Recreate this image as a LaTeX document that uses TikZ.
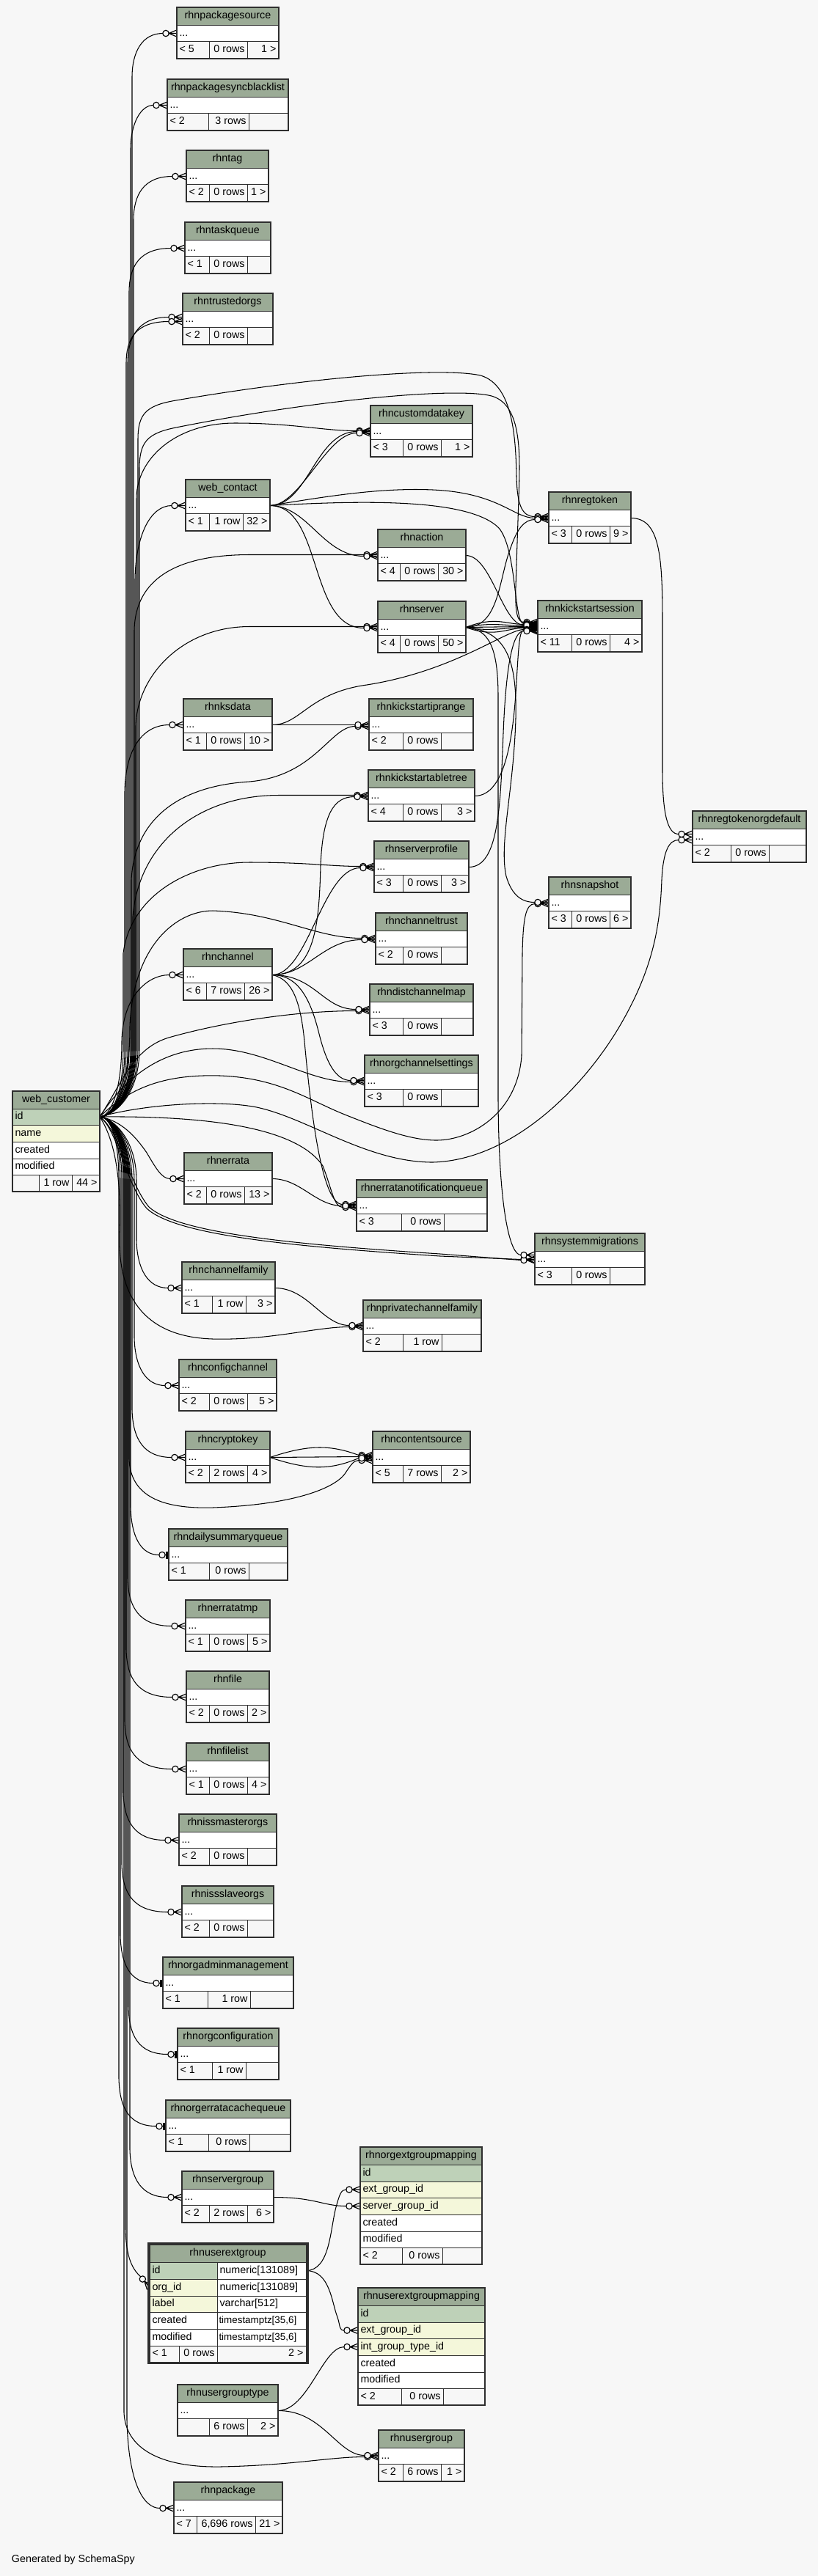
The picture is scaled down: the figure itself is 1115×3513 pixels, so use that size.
\documentclass[tikz,border=0pt]{standalone}
\usepackage{fontspec}
\setmainfont{Liberation Sans}
\definecolor{bgc}{HTML}{F7F7F7}
\definecolor{hdr}{HTML}{9BAB96}
\definecolor{pk}{HTML}{BED1B8}
\definecolor{idx}{HTML}{F4F7DA}
\definecolor{ftr}{HTML}{F7F7F7}
\definecolor{bdr}{HTML}{2E2E2E}
\pgfdeclarelayer{bglayer}
\pgfdeclarelayer{edgelayer}
\pgfsetlayers{bglayer,edgelayer,main}
\newcommand\fsz{\fontsize{14.3}{17}\selectfont}
\newcommand\fsm{\fontsize{13.4}{16}\selectfont}
\tikzset{
 cellbox/.style={draw=bdr, line width=0.9pt, inner sep=0pt, outer sep=0pt, rectangle},
 txt/.style={font=\fsz, inner sep=0pt, outer sep=0pt, text height=10.3pt, text depth=3pt, text=black},
 outer/.style={draw=bdr, line width=1.6pt},
 conn/.style={draw=black, line width=1.05pt},
 mk/.style={draw=black, line width=1.15pt},
 crowm/.pic={\draw[mk,fill=bgc] (-15,0) circle (4.2pt); \draw[mk] (-11,0) -- (0,-4.6) (-11,0) -- (0,0) (-11,0) -- (0,4.6);},
 onem/.pic={\draw[mk,fill=bgc] (-9,0) circle (4.2pt); \draw[mk] (-4.8,0) -- (0,0); \draw[line width=2.2pt] (-2.6,-5) -- (-2.6,5);},
}
\newcommand\tcell[6]{\pgfmathsetmacro\cWd{(#4)-(#2)}\pgfmathsetmacro\cHt{(#5)-(#3)}%
 \node[cellbox,fill=#6,minimum width=\cWd pt,minimum height=\cHt pt,anchor=north west] (#1) at ({#2},{#3}) {};}
\newcommand\cellL[2]{\node[txt,anchor=west] (#1-t) at ([xshift=3.5pt]#1.west) {#2};}
\newcommand\cellR[2]{\node[txt,anchor=east] (#1-t) at ([xshift=-3.5pt]#1.east) {#2};}
\newcommand\cellC[2]{\node[txt] (#1-t) at (#1.center) {#2};}
\newcommand\stbl[9]{\def\sN{#1}\def\sA{#2}\def\sB{#3}\def\sY{#4}\def\sT{#5}\def\sCa{#6}\def\sCb{#7}\def\sL{#8}\def\sM{#9}\stblfin}
\newcommand\stblfin[1]{%
 \tcell{\sN-h}{\sA}{\sY}{\sB}{\sY+24.5}{hdr}\cellC{\sN-h}{\sT}
 \tcell{\sN}{\sA}{\sY+24.5}{\sB}{\sY+46.5}{white}\cellL{\sN}{...}
 \tcell{\sN-f1}{\sA}{\sY+46.5}{\sCa}{\sY+70}{ftr}\cellL{\sN-f1}{\sL}
 \tcell{\sN-f2}{\sCa}{\sY+46.5}{\sCb}{\sY+70}{ftr}\cellR{\sN-f2}{\sM}
 \tcell{\sN-f3}{\sCb}{\sY+46.5}{\sB}{\sY+70}{ftr}\cellR{\sN-f3}{#1}
 \draw[outer] ({\sA},{\sY}) rectangle ({\sB},{\sY+70});}
\newcommand\edgeto[3]{\draw[conn] #1 ([xshift=-19pt,yshift=#3pt]#2.west); \pic at ([yshift=#3pt]#2.west) {crowm};}
\newcommand\edgeone[3]{\draw[conn] #1 ([xshift=-13.2pt,yshift=#3pt]#2.west); \pic at ([yshift=#3pt]#2.west) {onem};}
\newcommand\upE[4]{\edgeto{(wcid.east) .. controls (150,1523) and (#2,1500) .. (#2,1430) -- ({#2},{#3+60}) .. controls ({#2},{#3+25}) and ({#2+14},{#3-(#4)}) ..}{#1}{#4}}
\newcommand\dnE[4]{\edgeto{(wcid.east) .. controls (150,1523) and (#2,1550) .. (#2,1610) -- ({#2},{#3-65}) .. controls ({#2+1},{#3-25}) and ({#2+16},{#3-(#4)}) ..}{#1}{#4}}
\newcommand\dnO[4]{\edgeone{(wcid.east) .. controls (150,1523) and (#2,1550) .. (#2,1610) -- ({#2},{#3-65}) .. controls ({#2+1},{#3-25}) and ({#2+14},{#3-(#4)}) ..}{#1}{#4}}
\begin{document}
\begin{tikzpicture}[x=1pt,y=-1pt]
\begin{pgfonlayer}{bglayer}
\fill[bgc] (0,0) rectangle (1115,3513);
\end{pgfonlayer}
\useasboundingbox (0,0) rectangle (1115,3513);
% ---------- simple tables ----------
\stbl{pks}{241}{380}{10}{rhnpackagesource}{285}{337}{< 5}{0 rows}{1 >}
\stbl{psb}{228}{393}{108}{rhnpackagesyncblacklist}{284}{339}{< 2}{3 rows}{}
\stbl{tag}{254}{366}{205}{rhntag}{285}{337}{< 2}{0 rows}{1 >}
\stbl{tq}{252}{369}{303}{rhntaskqueue}{285}{337}{< 1}{0 rows}{}
\stbl{tro}{249}{372}{400}{rhntrustedorgs}{285}{337}{< 2}{0 rows}{}
\stbl{cdk}{505}{644}{553}{rhncustomdatakey}{549}{601}{< 3}{0 rows}{1 >}
\stbl{wct}{253}{368}{654}{web\_contact}{285}{331}{< 1}{1 row}{32 >}
\stbl{rgt}{748}{860}{671}{rhnregtoken}{779}{831}{< 3}{0 rows}{9 >}
\stbl{act}{515}{635}{722}{rhnaction}{545}{597}{< 4}{0 rows}{30 >}
\stbl{kss}{733}{875}{819}{rhnkickstartsession}{779}{831}{< 11}{0 rows}{4 >}
\stbl{srv}{515}{635}{820}{rhnserver}{545}{597}{< 4}{0 rows}{50 >}
\stbl{ksd}{250}{371}{953}{rhnksdata}{281}{333}{< 1}{0 rows}{10 >}
\stbl{kip}{503}{645}{953}{rhnkickstartiprange}{549}{601}{< 2}{0 rows}{}
\stbl{kat}{502}{647}{1050}{rhnkickstartabletree}{549}{601}{< 4}{0 rows}{3 >}
\stbl{rgd}{944}{1099}{1106}{rhnregtokenorgdefault}{996}{1048}{< 2}{0 rows}{}
\stbl{spf}{510}{639}{1147}{rhnserverprofile}{549}{601}{< 3}{0 rows}{3 >}
\stbl{snp}{748}{860}{1196}{rhnsnapshot}{779}{831}{< 3}{0 rows}{6 >}
\stbl{ctr}{512}{637}{1245}{rhnchanneltrust}{549}{601}{< 2}{0 rows}{}
\stbl{chn}{250}{371}{1294}{rhnchannel}{281}{333}{< 6}{7 rows}{26 >}
\stbl{dcm}{504}{645}{1342}{rhndistchannelmap}{549}{601}{< 3}{0 rows}{}
\stbl{ocs}{497}{652}{1439}{rhnorgchannelsettings}{549}{601}{< 3}{0 rows}{}
\stbl{err}{251}{371}{1572}{rhnerrata}{281}{333}{< 2}{0 rows}{13 >}
\stbl{enq}{486}{664}{1609}{rhnerratanotificationqueue}{547}{605}{< 3}{0 rows}{}
\stbl{smg}{729}{879}{1682}{rhnsystemmigrations}{779}{831}{< 3}{0 rows}{}
\stbl{cfm}{248}{375}{1721}{rhnchannelfamily}{289}{335}{< 1}{1 row}{3 >}
\stbl{pcf}{495}{656}{1773}{rhnprivatechannelfamily}{549}{602}{< 2}{1 row}{}
\stbl{cfg}{244}{377}{1854}{rhnconfigchannel}{285}{337}{< 2}{0 rows}{5 >}
\stbl{cky}{253}{368}{1952}{rhncryptokey}{285}{337}{< 2}{2 rows}{4 >}
\stbl{csr}{508}{641}{1952}{rhncontentsource}{549}{601}{< 5}{7 rows}{2 >}
\stbl{dsq}{230}{392}{2085}{rhndailysummaryqueue}{285}{339}{< 1}{0 rows}{}
\stbl{etp}{253}{368}{2182}{rhnerratatmp}{285}{337}{< 1}{0 rows}{5 >}
\stbl{fil}{254}{367}{2279}{rhnfile}{285}{337}{< 2}{0 rows}{2 >}
\stbl{fll}{254}{367}{2377}{rhnfilelist}{285}{337}{< 1}{0 rows}{4 >}
\stbl{imo}{244}{377}{2474}{rhnissmasterorgs}{285}{337}{< 2}{0 rows}{}
\stbl{iso}{248}{373}{2572}{rhnissslaveorgs}{285}{337}{< 2}{0 rows}{}
\stbl{oam}{222}{400}{2669}{rhnorgadminmanagement}{283}{341}{< 1}{1 row}{}
\stbl{ocf}{242}{380}{2766}{rhnorgconfiguration}{289}{335}{< 1}{1 row}{}
\stbl{oec}{226}{396}{2864}{rhnorgerratacachequeue}{284}{340}{< 1}{0 rows}{}
\stbl{sgp}{248}{373}{2961}{rhnservergroup}{285}{337}{< 2}{2 rows}{6 >}
\stbl{ugt}{242}{379}{3252}{rhnusergrouptype}{285}{337}{}{6 rows}{2 >}
\stbl{ugr}{516}{633}{3314}{rhnusergroup}{549}{601}{< 2}{6 rows}{1 >}
\stbl{pkg}{237}{385}{3385}{rhnpackage}{268}{348}{< 7}{6,696 rows}{21 >}
% ---------- web_customer ----------
\tcell{wc-h}{17}{1488}{136}{1512}{hdr}\cellC{wc-h}{web\_customer}
\tcell{wcid}{17}{1512}{136}{1534}{pk}\cellL{wcid}{id}
\tcell{wcnm}{17}{1534}{136}{1557}{idx}\cellL{wcnm}{name}
\tcell{wccr}{17}{1557}{136}{1580}{white}\cellL{wccr}{created}
\tcell{wcmo}{17}{1580}{136}{1602}{white}\cellL{wcmo}{modified}
\tcell{wcf1}{17}{1602}{53}{1625}{ftr}
\tcell{wcf2}{53}{1602}{98}{1625}{ftr}\cellR{wcf2}{1 row}
\tcell{wcf3}{98}{1602}{136}{1625}{ftr}\cellR{wcf3}{44 >}
\draw[outer] (17,1488) rectangle (136,1625);
% ---------- rhnorgextgroupmapping ----------
\tcell{oeg-h}{491}{2928}{657}{2952}{hdr}\cellC{oeg-h}{rhnorgextgroupmapping}
\tcell{oegid}{491}{2952}{657}{2975}{pk}\cellL{oegid}{id}
\tcell{oegext}{491}{2975}{657}{2997}{idx}\cellL{oegext}{ext\_group\_id}
\tcell{oegsrv}{491}{2997}{657}{3020}{idx}\cellL{oegsrv}{server\_group\_id}
\tcell{oegcr}{491}{3020}{657}{3043}{white}\cellL{oegcr}{created}
\tcell{oegmo}{491}{3043}{657}{3065}{white}\cellL{oegmo}{modified}
\tcell{oegf1}{491}{3065}{548}{3088}{ftr}\cellL{oegf1}{< 2}
\tcell{oegf2}{548}{3065}{603}{3088}{ftr}\cellR{oegf2}{0 rows}
\tcell{oegf3}{603}{3065}{657}{3088}{ftr}
\draw[outer] (491,2928) rectangle (657,3088);
% ---------- rhnuserextgroupmapping ----------
\tcell{uem-h}{488}{3120}{661}{3144}{hdr}\cellC{uem-h}{rhnuserextgroupmapping}
\tcell{uemid}{488}{3144}{661}{3167}{pk}\cellL{uemid}{id}
\tcell{uemext}{488}{3167}{661}{3189}{idx}\cellL{uemext}{ext\_group\_id}
\tcell{uemint}{488}{3189}{661}{3212}{idx}\cellL{uemint}{int\_group\_type\_id}
\tcell{uemcr}{488}{3212}{661}{3235}{white}\cellL{uemcr}{created}
\tcell{uemmo}{488}{3235}{661}{3257}{white}\cellL{uemmo}{modified}
\tcell{uemf1}{488}{3257}{547}{3280}{ftr}\cellL{uemf1}{< 2}
\tcell{uemf2}{547}{3257}{604}{3280}{ftr}\cellR{uemf2}{0 rows}
\tcell{uemf3}{604}{3257}{661}{3280}{ftr}
\draw[outer] (488,3120) rectangle (661,3280);
% ---------- rhnuserextgroup ----------
\tcell{ueg-h}{204}{3061}{417}{3085}{hdr}\cellC{ueg-h}{rhnuserextgroup}
\tcell{ueg-id}{204}{3085}{296}{3108}{pk}\cellL{ueg-id}{id}
\tcell{ueg-idr}{296}{3085}{417}{3108}{white}\cellL{ueg-idr}{numeric[131089]}
\tcell{ueg-org}{204}{3108}{296}{3131}{idx}\cellL{ueg-org}{org\_id}
\tcell{ueg-orgr}{296}{3108}{417}{3131}{white}\cellL{ueg-orgr}{numeric[131089]}
\tcell{ueg-lab}{204}{3131}{296}{3153}{idx}\cellL{ueg-lab}{label}
\tcell{ueg-labr}{296}{3131}{417}{3153}{white}\cellL{ueg-labr}{varchar[512]}
\tcell{ueg-cr}{204}{3153}{296}{3176}{white}\cellL{ueg-cr}{created}
\tcell{ueg-crr}{296}{3153}{417}{3176}{white}
\node[txt,font=\fsm,anchor=west] (ueg-crr-t) at ([xshift=2.5pt]ueg-crr.west) {timestamptz[35,6]};
\tcell{ueg-mo}{204}{3176}{296}{3199}{white}\cellL{ueg-mo}{modified}
\tcell{ueg-mor}{296}{3176}{417}{3199}{white}
\node[txt,font=\fsm,anchor=west] (ueg-mor-t) at ([xshift=2.5pt]ueg-mor.west) {timestamptz[35,6]};
\tcell{ueg-f1}{204}{3199}{244}{3221}{ftr}\cellL{ueg-f1}{< 1}
\tcell{ueg-f2}{244}{3199}{296}{3221}{ftr}\cellR{ueg-f2}{0 rows}
\tcell{ueg-f3}{296}{3199}{417}{3221}{ftr}\cellR{ueg-f3}{2 >}
\draw[line width=3pt,bdr] (202,3059.5) rectangle (419,3222.5);
\node[txt,anchor=west] (gen) at (16,3491) {Generated by SchemaSpy};
% ---------- connectors ----------
\begin{pgfonlayer}{edgelayer}
\upE{pks}{180}{45.5}{0}
\upE{psb}{178}{143.5}{0}
\upE{tag}{182}{240.5}{0}
\upE{tq}{176}{338.5}{0}
\upE{tro}{174}{435.5}{3}
\upE{tro}{172}{435.5}{-3}
\edgeto{(wcid.east) .. controls (150,1523) and (188,1500) .. (188,1430) -- (188,600) .. controls (188,565) and (198,553) .. (240,546) .. controls (420,515) and (600,500) .. (655,512) .. controls (700,525) and (703,600) .. (704,650) .. controls (705,690) and (712,704.5) ..}{rgt}{2}
\edgeto{(wcid.east) .. controls (150,1523) and (190,1500) .. (190,1430) -- (190,640) .. controls (190,603) and (200,591) .. (240,583) .. controls (420,547) and (620,527) .. (670,540) .. controls (712,552) and (709,620) .. (707,680) -- (703,800) .. controls (702,835) and (705,848.5) ..}{kss}{6}
\edgeto{(wcid.east) .. controls (150,1523) and (186,1500) .. (186,1430) -- (186,680) .. controls (186,625) and (240,577) .. (320,577) .. controls (400,577) and (440,587.5) ..}{cdk}{1}
\edgeto{(wcid.east) .. controls (150,1523) and (184,1500) .. (184,1430) -- (184,790) .. controls (185,730) and (205,689.5) ..}{wct}{0}
\edgeto{(wcid.east) .. controls (150,1523) and (183,1500) .. (183,1430) -- (183,860) .. controls (184,790) and (240,756.5) .. (340,756.5) --}{act}{1}
\edgeto{(wcid.east) .. controls (150,1523) and (185,1500) .. (185,1430) -- (185,990) .. controls (187,920) and (250,854.5) .. (340,854.5) --}{srv}{1}
\edgeto{(wcid.east) .. controls (150,1523) and (170,1500) .. (170,1430) -- (170,1080) .. controls (171,1020) and (195,988.5) ..}{ksd}{0}
\edgeto{(wcid.east) .. controls (150,1523) and (179,1500) .. (179,1430) -- (179,1200) .. controls (183,1120) and (240,1072) .. (340,1066) .. controls (430,1058) and (450,990.5) ..}{kip}{-2}
\edgeto{(wcid.east) .. controls (150,1523) and (181,1500) .. (181,1430) -- (181,1250) .. controls (189,1150) and (270,1084.5) .. (380,1084.5) --}{kat}{1}
\edgeto{(wcid.east) .. controls (150,1523) and (168,1500) .. (168,1430) -- (168,1300) .. controls (178,1220) and (260,1176) .. (340,1176) .. controls (420,1176) and (450,1181.5) ..}{spf}{1}
\edgeto{(wcid.east) .. controls (150,1523) and (177,1500) .. (177,1400) .. controls (181,1290) and (240,1242) .. (290,1242) .. controls (380,1245) and (430,1279.5) ..}{ctr}{1}
\edgeto{(wcid.east) .. controls (150,1523) and (166,1490) .. (166,1420) .. controls (167,1360) and (200,1329.5) ..}{chn}{0}
\edgeto{(wcid.east) .. controls (165,1480) and (180,1430) .. (230,1415) .. controls (300,1395) and (400,1378.5) ..}{dcm}{-1}
\edgeto{(wcid.east) .. controls (170,1470) and (220,1430) .. (290,1430) .. controls (360,1430) and (420,1475.5) ..}{ocs}{-1}
\edgeto{(wcid.east) .. controls (180,1480) and (230,1465) .. (300,1467) .. controls (380,1470) and (420,1500) .. (470,1520) .. controls (520,1540) and (560,1555) .. (595,1555) .. controls (640,1555) and (705,1520) .. (711,1440) -- (712,1300) .. controls (713,1255) and (716,1232.5) ..}{snp}{-1}
\edgeto{(wcid.east) .. controls (200,1505) and (300,1500) .. (350,1510) .. controls (420,1525) and (500,1585) .. (590,1585) .. controls (700,1582) and (800,1480) .. (850,1390) .. controls (895,1310) and (900,1250) .. (902,1200) .. controls (904,1160) and (912,1145.5) ..}{rgd}{-4}
\edgeto{(wcid.east) .. controls (250,1522) and (400,1530) .. (440,1590) .. controls (452,1620) and (455,1646.5) ..}{enq}{-2}
\edgeto{(wcid.east) .. controls (160,1540) and (172,1615) .. (200,1648) .. controls (240,1685) and (400,1700) .. (600,1713) --}{smg}{0}
\edgeto{(wcid.east) .. controls (162,1540) and (175,1612) .. (203,1646) .. controls (243,1682) and (400,1697) .. (600,1710) --}{smg}{-1}
\edgeto{(wcid.east) .. controls (165,1528) and (185,1550) .. (200,1572) .. controls (212,1592) and (220,1607.5) ..}{err}{0}
\dnE{cfm}{186}{1756.5}{0}
\edgeto{(wcid.east) .. controls (160,1560) and (165,1620) .. (163,1680) .. controls (160,1760) and (190,1823) .. (290,1826) .. controls (370,1828) and (430,1809.5) ..}{pcf}{-1}
\dnE{cfg}{183}{1889.5}{0}
\dnE{cky}{180}{1987.5}{0}
\edgeto{(wcid.east) .. controls (150,1523) and (176,1550) .. (176,1610) -- (176,1990) .. controls (178,2040) and (220,2058) .. (290,2056) .. controls (400,2052) and (455,2030) .. (470,2010) .. controls (478,1998) and (482,1991.5) ..}{csr}{-4}
\dnO{dsq}{178}{2120.5}{0}
\dnE{etp}{174}{2217.5}{0}
\dnE{fil}{172}{2314.5}{0}
\dnE{fll}{170}{2412.5}{0}
\dnE{imo}{168}{2509.5}{0}
\dnE{iso}{166}{2607.5}{0}
\dnO{oam}{164}{2704.5}{0}
\dnO{ocf}{175}{2801.5}{0}
\dnO{oec}{162}{2899.5}{0}
\dnE{sgp}{177}{2996.5}{0}
\draw[conn] (wcid.east) .. controls (150,1523) and (171,1550) .. (171,1610) -- (171,3040) .. controls (172,3080) and (181,3095) .. ([xshift=-12.2pt,yshift=14.56pt]ueg-org.west);
\pic[rotate=-50] at (ueg-org.west) {crowm};
\edgeto{(wcid.east) .. controls (150,1523) and (169,1550) .. (169,1610) -- (169,3290) .. controls (171,3340) and (220,3365) .. (300,3364) .. controls (400,3362) and (450,3350.5) ..}{ugr}{-1}
\edgeto{(wcid.east) .. controls (150,1523) and (173,1550) .. (173,1610) -- (173,3300) .. controls (175,3385) and (195,3420.5) ..}{pkg}{0}
% web_contact
\edgeto{(wct.east) .. controls (420,689.5) and (430,588.5) ..}{cdk}{0}
\edgeto{(wct.east) .. controls (410,689.5) and (445,590.5) ..}{cdk}{-2}
\edgeto{(wct.east) .. controls (420,689.5) and (440,758.5) ..}{act}{-1}
\edgeto{(wct.east) .. controls (440,689.5) and (420,856.5) ..}{srv}{-1}
\edgeto{(wct.east) .. controls (450,676) and (520,665) .. (590,668) .. controls (680,672) and (700,706.5) ..}{rgt}{0}
\edgeto{(wct.east) .. controls (500,682) and (640,680) .. (680,720) .. controls (705,750) and (700,850.5) ..}{kss}{4}
% rhnserver
\edgeto{(srv.east) .. controls (680,855.5) and (680,790) .. (695,750) .. controls (705,720) and (715,708.5) ..}{rgt}{-2}
\edgeto{(srv.east) .. controls (675,840) and (690,851.5) ..}{kss}{3}
\edgeto{(srv.east) .. controls (670,848) and (690,853.5) ..}{kss}{1}
\edgeto{(srv.east) --}{kss}{0}
\edgeto{(srv.east) .. controls (670,862) and (690,855.5) ..}{kss}{-1}
\edgeto{(srv.east) .. controls (675,870) and (690,856.5) ..}{kss}{-2}
\edgeto{(srv.east) .. controls (690,860) and (705,900) .. (703,980) .. controls (700,1080) and (680,1150) .. (690,1195) .. controls (698,1222) and (712,1230.5) ..}{snp}{1}
\edgeto{(srv.east) .. controls (665,858) and (679,880) .. (679,950) -- (679,1500) .. controls (680,1650) and (695,1711.5) ..}{smg}{6}
% others
\edgeto{(act.east) .. controls (670,757.5) and (685,852.5) ..}{kss}{2}
\edgeto{(ksd.east) --}{kip}{0}
\edgeto{(ksd.east) .. controls (410,988.5) and (420,945) .. (500,934) .. controls (620,915) and (690,858.5) ..}{kss}{-4}
\edgeto{(kat.east) .. controls (690,1085.5) and (700,1000) .. (704,930) .. controls (707,880) and (708,859.5) ..}{kss}{-5}
\edgeto{(spf.east) .. controls (680,1182.5) and (682,1100) .. (686,1000) .. controls (690,900) and (700,860.5) ..}{kss}{-6}
\edgeto{(chn.east) .. controls (430,1329.5) and (435,1260) .. (437,1180) .. controls (440,1110) and (455,1086.5) ..}{kat}{-1}
\edgeto{(chn.east) .. controls (420,1329.5) and (440,1183.5) ..}{spf}{-1}
\edgeto{(chn.east) .. controls (420,1329.5) and (440,1281.5) ..}{ctr}{-1}
\edgeto{(chn.east) .. controls (430,1329.5) and (440,1376.5) ..}{dcm}{1}
\edgeto{(chn.east) .. controls (410,1329.5) and (425,1370) .. (435,1410) .. controls (445,1450) and (458,1473.5) ..}{ocs}{1}
\edgeto{(chn.east) .. controls (400,1335) and (410,1370) .. (415,1420) .. controls (425,1530) and (440,1642.5) ..}{enq}{2}
\edgeto{(err.east) .. controls (410,1607.5) and (430,1644.5) ..}{enq}{0}
\edgeto{(rgt.east) .. controls (900,706.5) and (903,760) .. (903,850) -- (903,1050) .. controls (903,1110) and (910,1137.5) ..}{rgd}{4}
\edgeto{(cfm.east) .. controls (420,1756.5) and (440,1807.5) ..}{pcf}{1}
\edgeto{(cky.east) .. controls (420,1970) and (450,1970) ..}{csr}{3}
\edgeto{(cky.east) --}{csr}{1}
\edgeto{(cky.east) .. controls (420,2005) and (450,2005) ..}{csr}{-1}
\edgeto{(sgp.east) .. controls (430,2996.5) and (440,3008.5) ..}{oegsrv}{0}
\edgeto{(ueg-idr.east) .. controls (450,3096.5) and (450,3040) .. (458,3010) .. controls (463,2992) and (465,2986) ..}{oegext}{0}
\edgeto{(ueg-idr.east) .. controls (450,3096.5) and (452,3140) .. (460,3160) .. controls (464,3172) and (462,3178) ..}{uemext}{0}
\edgeto{(ugt.east) .. controls (420,3287) and (440,3200.5) ..}{uemint}{0}
\edgeto{(ugt.east) .. controls (440,3287) and (460,3348.5) ..}{ugr}{1}
\end{pgfonlayer}
\end{tikzpicture}
\end{document}
